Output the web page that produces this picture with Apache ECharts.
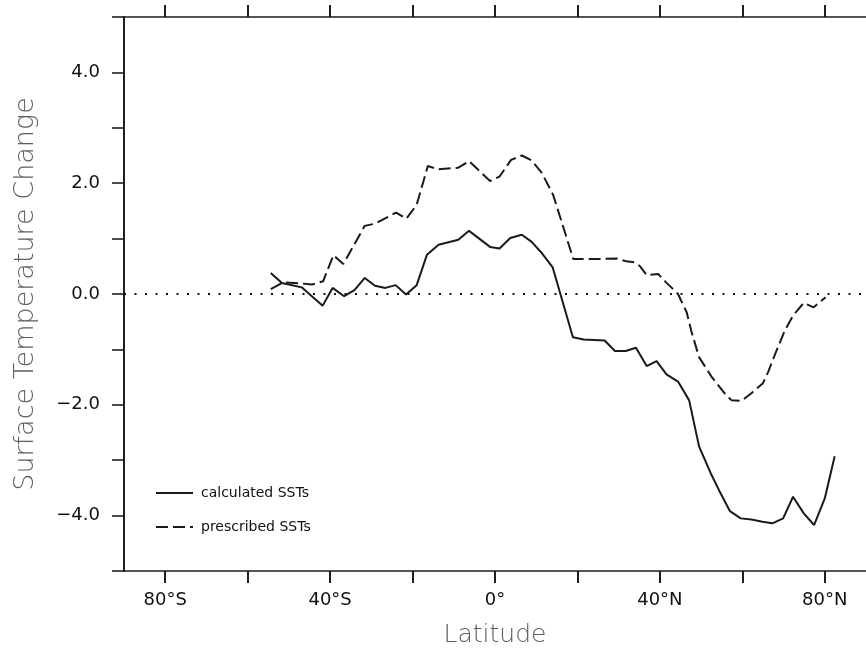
<!DOCTYPE html>
<html>
<head>
<meta charset="utf-8">
<script src="https://cdn.jsdelivr.net/npm/echarts@6/dist/echarts.min.js"></script>
<style>
html,body{margin:0;padding:0;background:#fff;}
#c{width:866px;height:653px;}
</style>
</head>
<body>
<div id="c"></div>
<script>
// Calculated SSTs (solid)
var calcLat = [-54.4,-51.7,-46.9,-41.8,-39.4,-36.6,-34.1,-31.6,-29.1,-26.6,-24.1,-21.6,-19.0,-16.5,-13.7,-8.9,-6.3,-1.2,1.1,3.7,6.5,8.9,11.4,14.0,18.9,21.5,24.0,26.6,29.1,31.7,34.2,36.8,39.2,41.6,44.4,47.1,49.5,52.3,54.6,57.0,59.6,62.2,64.9,67.3,69.9,72.3,74.9,77.4,80.0,82.4];
var calcVal = [0.38,0.20,0.12,-0.21,0.11,-0.04,0.07,0.29,0.15,0.11,0.16,-0.01,0.16,0.71,0.89,0.98,1.14,0.85,0.82,1.01,1.07,0.94,0.735,0.48,-0.78,-0.82,-0.83,-0.84,-1.03,-1.03,-0.97,-1.30,-1.21,-1.45,-1.58,-1.92,-2.75,-3.23,-3.58,-3.92,-4.05,-4.07,-4.11,-4.14,-4.05,-3.66,-3.96,-4.17,-3.69,-2.93];
// Prescribed SSTs (dashed)
var presLat = [-54.4,-51.4,-46.9,-44.4,-41.7,-39.2,-36.8,-31.6,-29.1,-24.0,-21.5,-19.0,-16.3,-13.7,-8.9,-6.3,-1.2,1.1,3.9,6.5,8.9,11.4,14.1,19.0,24.6,29.5,31.9,33.9,35.2,36.8,39.6,41.5,44.4,46.5,47.7,49.5,52.5,56.0,57.4,59.8,62.2,65.0,66.3,68.3,70.3,72.3,74.9,77.3,80.2];
var presVal = [0.09,0.21,0.19,0.17,0.23,0.70,0.54,1.23,1.27,1.47,1.36,1.61,2.31,2.25,2.28,2.40,2.04,2.12,2.42,2.50,2.41,2.18,1.79,0.63,0.63,0.64,0.59,0.57,0.50,0.34,0.36,0.21,0.0,-0.33,-0.69,-1.14,-1.49,-1.82,-1.92,-1.93,-1.79,-1.61,-1.40,-1.02,-0.66,-0.39,-0.16,-0.24,-0.06];
var xTickValues = [-80,-60,-40,-20,0,20,40,60,80];
var xLabelValues = [-80,-40,0,40,80];
var seriesNames = ['calculated SSTs','prescribed SSTs'];

function zip(a,b){var r=[];for(var i=0;i<a.length;i++)r.push([a[i],b[i]]);return r;}
function latFmt(v){ if(v<0) return (-v)+'°S'; if(v>0) return v+'°N'; return '0°'; }
function yFmt(v){ if(Math.abs(v)%2!==0) return ''; var s=Math.abs(v).toFixed(1); return v<0?'\u2212'+s:s; }

var AX='#1e1e1e';
var FONT='DejaVu Sans';
var chart = echarts.init(document.getElementById('c'));
chart.setOption({
  animation:false,
  backgroundColor:'#fff',
  textStyle:{fontFamily:FONT},
  grid:{left:124,right:0,top:17,bottom:79,containLabel:false},
  legend:{
    orient:'vertical', left:155, top:486, padding:0, itemWidth:37, itemHeight:14, itemGap:20,
    itemStyle:{opacity:0},
    textStyle:{fontSize:14,color:'#111',fontFamily:FONT,padding:[0,0,0,3]},
    data:[{name:seriesNames[0]},{name:seriesNames[1]}]
  },
  xAxis:[{
    type:'value', min:-90, max:90, position:'bottom',
    axisLine:{show:true,onZero:false,lineStyle:{color:AX,width:1.6}},
    axisTick:{show:true,length:12,inside:false,customValues:xTickValues,lineStyle:{color:AX,width:2}},
    axisLabel:{customValues:xLabelValues,formatter:latFmt,margin:20,fontSize:18,color:'#111',fontFamily:FONT},
    splitLine:{show:false},
    name:'Latitude', nameLocation:'middle', nameGap:52,
    nameTextStyle:{fontSize:25,color:'#5e5e5e',fontFamily:FONT,fontWeight:'lighter'}
  },{
    type:'value', min:-90, max:90, position:'top',
    axisLine:{show:true,onZero:false,lineStyle:{color:AX,width:1.6}},
    axisTick:{show:true,length:12,inside:false,customValues:xTickValues,lineStyle:{color:AX,width:2}},
    axisLabel:{show:false},
    splitLine:{show:false}
  }],
  yAxis:{
    type:'value', min:-5, max:5, interval:1,
    axisLine:{show:true,onZero:false,lineStyle:{color:AX,width:2}},
    axisTick:{show:true,length:12,inside:false,lineStyle:{color:AX,width:1.6}},
    axisLabel:{formatter:yFmt,margin:24,fontSize:18,color:'#111',fontFamily:FONT},
    splitLine:{show:false},
    name:'Surface Temperature Change', nameLocation:'middle', nameGap:85,
    nameTextStyle:{fontSize:27,color:'#5e5e5e',fontFamily:FONT,fontWeight:'lighter'}
  },
  series:[{
    name:seriesNames[0], type:'line', xAxisIndex:0, data:zip(calcLat,calcVal),
    symbol:'none', showSymbol:false,
    lineStyle:{color:'#1a1a1a',width:2},
    itemStyle:{color:'#1a1a1a'},
    markLine:{
      silent:true, symbol:'none', label:{show:false},
      lineStyle:{color:'#111',width:2,type:[2,8.5],cap:'butt'},
      emphasis:{disabled:true},
      data:[{yAxis:0}]
    }
  },{
    name:seriesNames[1], type:'line', xAxisIndex:0, data:zip(presLat,presVal),
    symbol:'none', showSymbol:false,
    lineStyle:{color:'#1a1a1a',width:2,type:[12,5]},
    itemStyle:{color:'#1a1a1a'}
  }]
});
</script>
</body>
</html>
